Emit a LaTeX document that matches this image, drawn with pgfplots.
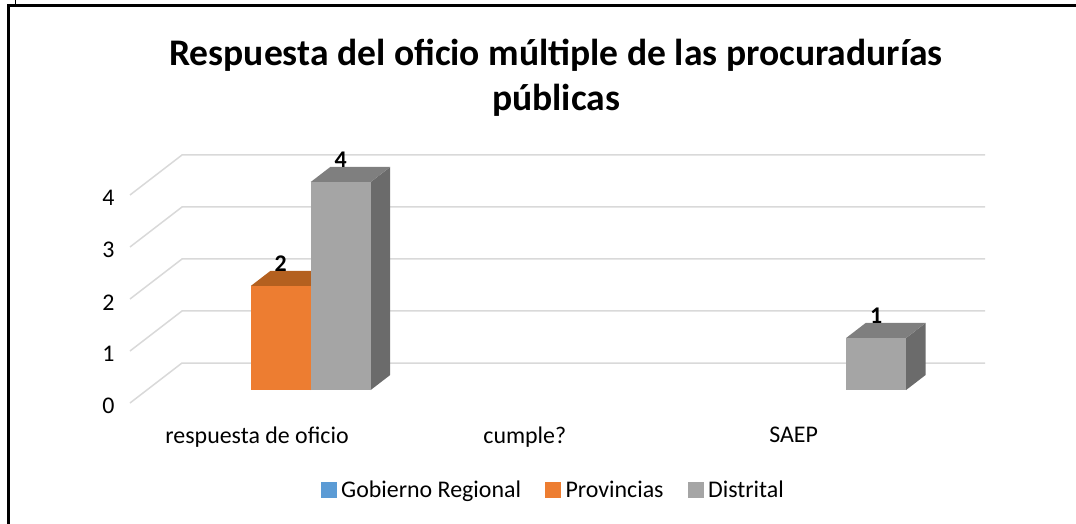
\documentclass[border=0pt]{standalone}
\usepackage{pgfplots}
\pgfplotsset{compat=1.18}
\usepackage{fontspec}
\setmainfont{Carlito}
\definecolor{gridc}{HTML}{D9D9D9}
\definecolor{blueS}{HTML}{5B9BD5}
\definecolor{orangeF}{HTML}{ED7D31}
\definecolor{orangeT}{HTML}{B4601F}
\definecolor{orangeS}{HTML}{A0541C}
\definecolor{greyF}{HTML}{A5A5A5}
\definecolor{greyT}{HTML}{7F7F7F}
\definecolor{greyS}{HTML}{6B6B6B}
\begin{document}
\begin{tikzpicture}
\begin{axis}[
  x={(267.7bp,0bp)}, y={(52bp,40bp)}, z={(0bp,52bp)},
  xmin=-0.5, xmax=2.5, ymin=0, ymax=1, zmin=0, zmax=4,
  clip=false,
  axis line style={draw=none},
  major tick style={draw=none},
  xtick={0,1,2},
  xticklabels={respuesta de oficio, cumple?, SAEP},
  ytick=\empty,
  ztick={0,1,2,3,4},
  /pgf/number format/assume math mode=true,
  ticklabel style={font=\fontsize{24}{29}\selectfont},
  xticklabel style={yshift=-20bp},
  zticklabel style={xshift=-12bp},
  legend columns=3,
  legend style={draw=none, at={(0.495,-0.351)}, anchor=center,
    font=\fontsize{24}{29}\selectfont,
    /tikz/every even column/.append style={column sep=22bp}},
  legend image code/.code={\fill[#1] (0bp,-8bp) rectangle (16bp,8bp); \path (18.5bp,0bp);},
]
% legend
\addlegendimage{fill=blueS, draw=none}
\addlegendentry{Gobierno Regional}
\addlegendimage{fill=orangeF, draw=none}
\addlegendentry{Provincias}
\addlegendimage{fill=greyF, draw=none}
\addlegendentry{Distrital}
% grid: left floor diagonals and back wall lines
\addplot3[gridc, line width=1.5bp, mark=none, forget plot] coordinates {(-0.5,0,0) (-0.5,1,0) (2.5,1,0)};
\addplot3[gridc, line width=1.5bp, mark=none, forget plot] coordinates {(-0.5,0,1) (-0.5,1,1) (2.5,1,1)};
\addplot3[gridc, line width=1.5bp, mark=none, forget plot] coordinates {(-0.5,0,2) (-0.5,1,2) (2.5,1,2)};
\addplot3[gridc, line width=1.5bp, mark=none, forget plot] coordinates {(-0.5,0,3) (-0.5,1,3) (2.5,1,3)};
\addplot3[gridc, line width=1.5bp, mark=none, forget plot] coordinates {(-0.5,0,4) (-0.5,1,4) (2.5,1,4)};
% Provincias, respuesta de oficio = 2
\addplot3[fill=orangeS, draw=none, forget plot] coordinates {(0.112,0.325,0) (0.112,0.7,0) (0.112,0.7,2) (0.112,0.325,2)};
\addplot3[fill=orangeT, draw=none, forget plot] coordinates {(-0.112,0.325,2) (0.112,0.325,2) (0.112,0.7,2) (-0.112,0.7,2)};
\addplot3[fill=orangeF, draw=none, forget plot] coordinates {(-0.112,0.325,0) (0.112,0.325,0) (0.112,0.325,2) (-0.112,0.325,2)};
% Distrital, respuesta de oficio = 4
\addplot3[fill=greyS, draw=none, forget plot] coordinates {(0.336,0.325,0) (0.336,0.7,0) (0.336,0.7,4) (0.336,0.325,4)};
\addplot3[fill=greyT, draw=none, forget plot] coordinates {(0.112,0.325,4) (0.336,0.325,4) (0.336,0.7,4) (0.112,0.7,4)};
\addplot3[fill=greyF, draw=none, forget plot] coordinates {(0.112,0.325,0) (0.336,0.325,0) (0.336,0.325,4) (0.112,0.325,4)};
% Distrital, SAEP = 1
\addplot3[fill=greyS, draw=none, forget plot] coordinates {(2.336,0.325,0) (2.336,0.7,0) (2.336,0.7,1) (2.336,0.325,1)};
\addplot3[fill=greyT, draw=none, forget plot] coordinates {(2.112,0.325,1) (2.336,0.325,1) (2.336,0.7,1) (2.112,0.7,1)};
\addplot3[fill=greyF, draw=none, forget plot] coordinates {(2.112,0.325,0) (2.336,0.325,0) (2.336,0.325,1) (2.112,0.325,1)};
% data labels
\addplot3[draw=none, mark=none, forget plot, point meta=z,
  nodes near coords={\bfseries\fontsize{24}{28}\selectfont\pgfmathprintnumber{\pgfplotspointmeta}},
  nodes near coords style={anchor=south, yshift=11bp}]
  coordinates {(0,0.325,2) (0.224,0.325,4) (2.224,0.325,1)};
% title
\node[font=\bfseries\fontsize{37.7}{45}\selectfont, align=center] at (axis cs:1.0913,0,6.26)
  {Respuesta del oficio múltiple de las procuradurías\\públicas};
\coordinate (O) at (axis cs:-0.5,0,0);
\end{axis}
\draw[line width=3bp] ([shift={(-121.5bp,-121bp)}]O) -- ([shift={(-121.5bp,397.5bp)}]O) -- ([shift={(946bp,397.5bp)}]O);
\draw[line width=1.7bp] ([shift={(-114.5bp,399bp)}]O) -- ([shift={(-114.5bp,403bp)}]O);
\pgfresetboundingbox
\path ([shift={(-130bp,-121bp)}]O) rectangle ([shift={(946bp,403bp)}]O);
\end{tikzpicture}
\end{document}
